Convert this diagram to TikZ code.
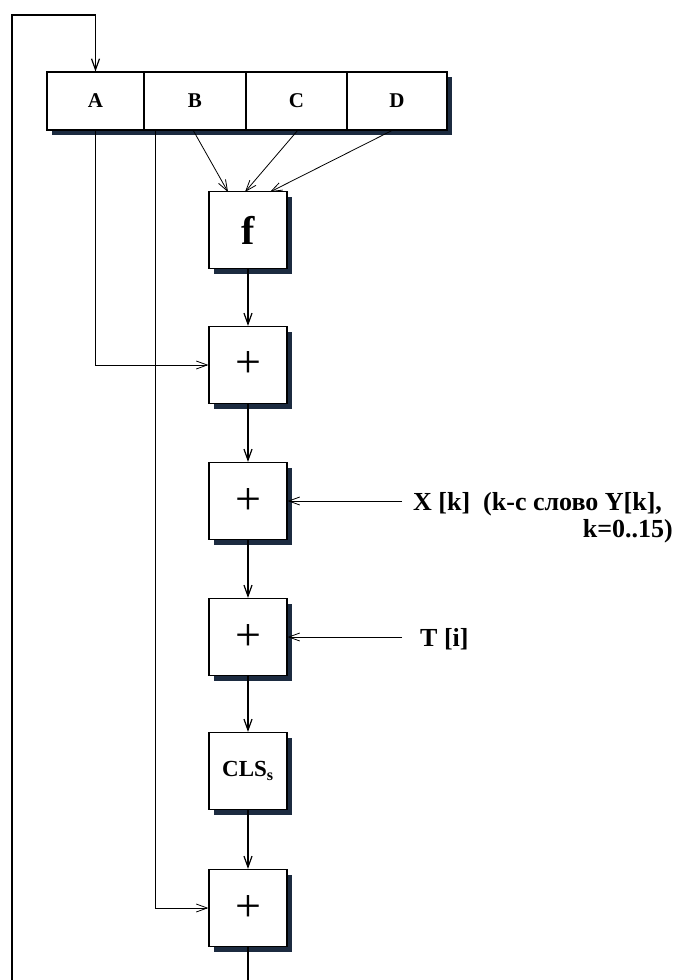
\documentclass[tikz,border=0pt]{standalone}
\usepackage{fontspec}
\setmainfont{Liberation Serif}
\usetikzlibrary{arrows.meta,shadows,calc}
\definecolor{shad}{HTML}{1C2B40}
\begin{document}
\begin{tikzpicture}[x=1pt,y=-1pt,
  opbox/.style={draw=black, line width=1.2pt, fill=white, minimum width=78pt, minimum height=77pt, inner sep=0pt,
    drop shadow={shadow xshift=5pt, shadow yshift=-5pt, fill=shad, opacity=1}},
  cell/.style={draw=black, line width=1.1pt, fill=white, minimum height=58pt, inner sep=0pt,
    font=\fontsize{21}{22}\selectfont\bfseries},
  arr/.style={line width=1.2pt, -{Straight Barb[length=11pt,width=8pt]}},
  thinarr/.style={line width=0.8pt, -{Straight Barb[length=11pt,width=8pt]}},
  plus/.style={font=\fontsize{46}{48}\selectfont},
  lbl/.style={font=\fontsize{26}{28}\selectfont\bfseries, inner sep=0pt}
]
\useasboundingbox (0,0) rectangle (680,980);
% register
\fill[shad] (52,77) rectangle (452,135);
\node[cell, minimum width=97pt] (A) at (95.5,101) {A};
\node[cell, minimum width=102pt] (B) at (195,101) {B};
\node[cell, minimum width=101pt] (C) at (296.5,101) {C};
\node[cell, minimum width=100pt] (D) at (397,101) {D};
% operation boxes
\node[opbox, font=\fontsize{40}{42}\selectfont\bfseries] (f) at (248,230) {f};
\node[opbox, plus] (p1) at (248,365) {+};
\node[opbox, plus] (p2) at (248,501) {+};
\node[opbox, plus] (p3) at (248,637) {+};
\node[opbox, font=\fontsize{23}{25}\selectfont\bfseries] (cls) at (248,771) {CLS\textsubscript{s}};
\node[opbox, plus] (p4) at (248,908) {+};
% labels
\node[lbl, anchor=base west] (xk) at (413,510) {X [k]\ \ (k-c слово Y[k],};
\node[lbl, anchor=base east] (xk2) at (673,537) {k=0..15)};
\node[lbl, anchor=base west] (ti) at (420,646) {T [i]};
% coordinates
\coordinate (fbbot) at (12,980);
\coordinate (fbtl) at (12,15);
\coordinate (fbtr) at (95.5,15);
\coordinate (bsrc) at (155,130);
\coordinate (bd) at (193,130);
\coordinate (cd) at (298,130);
\coordinate (dd) at (393,130);
\coordinate (fb) at (228,192);
\coordinate (fc) at (245,192);
\coordinate (fd) at (270,192);
\coordinate (xin) at (402,501);
\coordinate (tin) at (402,637);
\coordinate (out) at (248,980);
% feedback
\draw[arr] (fbbot) -- (fbtl) -- (fbtr) -- (A.north);
% inputs to f
\draw[thinarr] (bd) -- (fb);
\draw[thinarr] (cd) -- (fc);
\draw[thinarr] (dd) -- (fd);
% chain
\draw[arr] (f) -- (p1);
\draw[arr] (p1) -- (p2);
\draw[arr] (p2) -- (p3);
\draw[arr] (p3) -- (cls);
\draw[arr] (cls) -- (p4);
\draw[line width=1.2pt] (p4) -- (out);
% side inputs
\draw[thinarr] (A.south) |- (p1.west);
\draw[thinarr] (bsrc) |- (p4.west);
\draw[thinarr] (xin) -- (p2.east);
\draw[thinarr] (tin) -- (p3.east);
\end{tikzpicture}
\end{document}
